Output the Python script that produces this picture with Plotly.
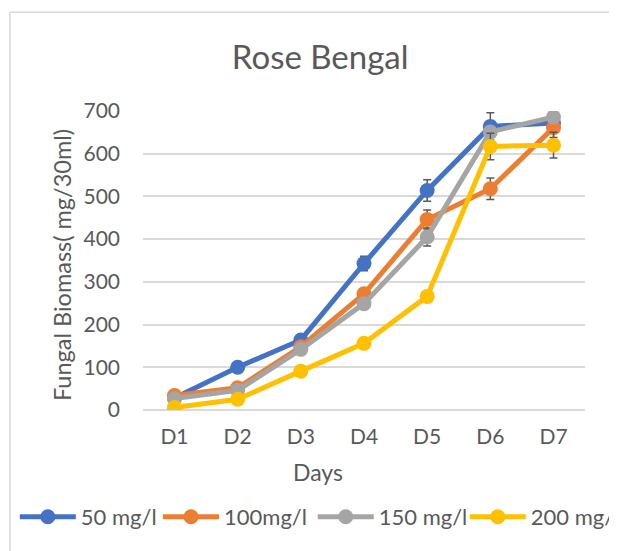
import plotly.graph_objects as go

# data
days = ["D1", "D2", "D3", "D4", "D5", "D6", "D7"]

conc_50 = [28, 100, 164, 343, 514, 664, 672]
conc_100 = [34, 52, 148, 272, 446, 518, 661]
conc_150 = [27, 46, 142, 249, 405, 651, 686]
conc_200 = [6, 25, 91, 156, 266, 617, 620]

err_50 = [3, 5, 8, 17, 25, 32, 10]
err_100 = [3, 5, 8, 10, 22, 25, 23]
err_150 = [3, 5, 8, 10, 21, 10, 8]
err_200 = [2, 3, 5, 5, 8, 31, 30]

names = ["50 mg/l", "100mg/l", "150 mg/l", "200 mg/l"]
colors = ["#4472C4", "#ED7D31", "#A5A5A5", "#FFC000"]

grey_txt = "#595959"
font = "Lato"

# page body has an 8px margin, so everything is laid out 8px up/left
# one legend per series so each entry sits where the original puts it
legend_ids = ["legend", "legend2", "legend3", "legend4"]
legend_x = [-0.29, 0.034, 0.384, 0.728]

fig = go.Figure()
for name, vals, errs, col, lg in zip(names, [conc_50, conc_100, conc_150, conc_200],
                                     [err_50, err_100, err_150, err_200], colors, legend_ids):
    fig.add_trace(go.Scatter(
        x=days, y=vals, name=name, mode="lines+markers",
        line=dict(color=col, width=5),
        marker=dict(color=col, size=15),
        error_y=dict(type="data", array=errs, color=grey_txt, thickness=1.5, width=4),
        legend=lg,
    ))

# chart border (only top and left edges visible in the crop)
fig.add_shape(type="rect", xref="paper", yref="paper",
              x0=-0.301, x1=2, y0=-2, y1=1.33,
              line=dict(color="#d9d9d9", width=1.5), layer="below")

fig.add_annotation(text="Days", xref="paper", yref="paper", x=0.397, y=-0.207,
                   showarrow=False, xanchor="center", yanchor="middle",
                   font=dict(family=font, size=23, color=grey_txt))
fig.add_annotation(text="Fungal Biomass( mg/30ml)", xref="paper", yref="paper",
                   x=-0.183, y=0.485, textangle=-90, showarrow=False,
                   xanchor="center", yanchor="middle",
                   font=dict(family=font, size=23.5, color=grey_txt))

leg_common = dict(orientation="h", xanchor="left", y=-0.3575, yanchor="middle",
                  font=dict(family=font, size=22, color=grey_txt), itemwidth=56,
                  bgcolor="rgba(0,0,0,0)")

fig.update_layout(
    width=617, height=551,
    paper_bgcolor="white", plot_bgcolor="white",
    margin=dict(l=135, r=40, t=103, b=149, autoexpand=False),
    title=dict(text="Rose Bengal", xref="container", yref="container",
               x=0.506, y=0.911, xanchor="center", yanchor="middle",
               font=dict(family=font, size=33, color=grey_txt)),
    font=dict(family=font, color=grey_txt),
    showlegend=True,
    legend=dict(x=legend_x[0], **leg_common),
    legend2=dict(x=legend_x[1], **leg_common),
    legend3=dict(x=legend_x[2], **leg_common),
    legend4=dict(x=legend_x[3], **leg_common),
    xaxis=dict(showgrid=False, showline=False, ticks="", zeroline=False,
               tickfont=dict(family=font, size=21, color=grey_txt),
               ticklabelstandoff=12),
    yaxis=dict(range=[0, 700], dtick=100, showgrid=True, gridcolor="#d9d9d9", gridwidth=1.5,
               zeroline=True, zerolinecolor="#d9d9d9", zerolinewidth=1.5,
               showline=False, ticks="",
               tickfont=dict(family=font, size=21, color=grey_txt),
               ticklabelstandoff=22),
)

fig.write_html("out.html")
